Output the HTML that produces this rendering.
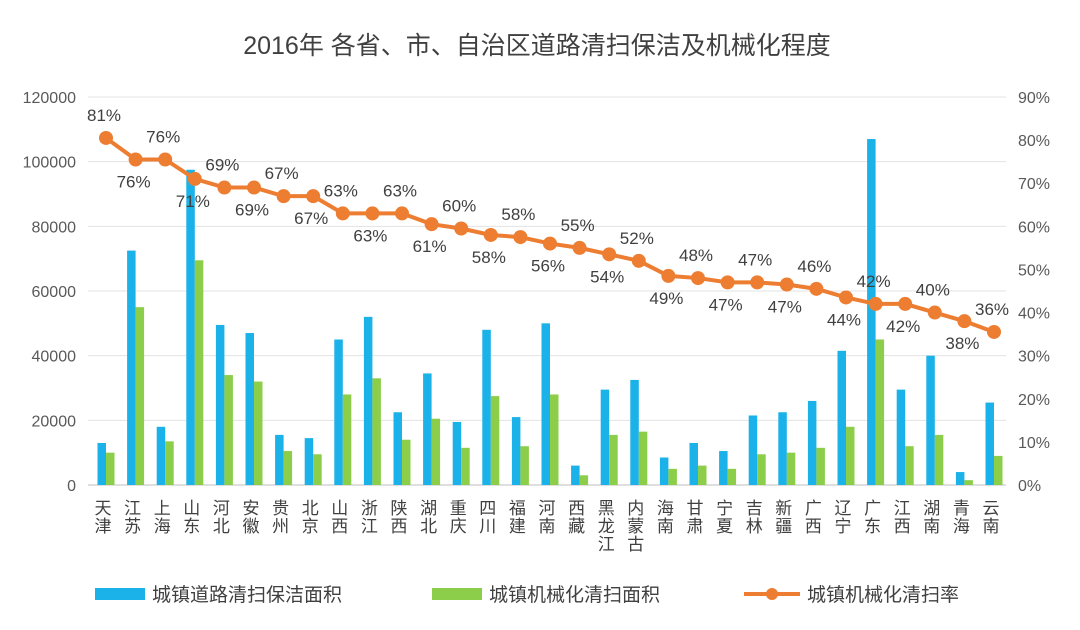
<!DOCTYPE html>
<html><head><meta charset="utf-8"><style>
body{margin:0;background:#fff}
svg{display:block;font-family:"Liberation Sans","Noto Sans CJK SC",sans-serif}
</style></head><body>
<svg id="s" width="1080" height="630" xmlns="http://www.w3.org/2000/svg">
<rect width="1080" height="630" fill="#fff"/>
<text x="537" y="54" font-size="25" fill="#404040" text-anchor="middle">2016年 各省、市、自治区道路清扫保洁及机械化程度</text>
<g id="grid"></g>
<g id="bars"></g>
<g id="line"></g>
<g id="labels"></g>
<g>
<rect x="95" y="588" width="50" height="12" fill="#1ab2e8"/>
<text x="152" y="601" font-size="19" fill="#404040">城镇道路清扫保洁面积</text>
<rect x="432" y="588" width="50" height="12" fill="#8cce4a"/>
<text x="489" y="601" font-size="19" fill="#404040">城镇机械化清扫面积</text>
<line x1="744" y1="594" x2="800" y2="594" stroke="#ed7d31" stroke-width="4"/>
<circle cx="772" cy="594" r="6" fill="#ed7d31"/>
<text x="807" y="601" font-size="19" fill="#404040">城镇机械化清扫率</text>
</g>
</svg>
<script>
var NS="http://www.w3.org/2000/svg";
function el(p,t,a,txt){var e=document.createElementNS(NS,t);for(var k in a)e.setAttribute(k,a[k]);if(txt!=null)e.textContent=txt;document.getElementById(p).appendChild(e);}
var y0=485,h=388;
for(var i=0;i<=6;i++){var y=y0-i*h/6;
el("grid","line",{x1:88,x2:1006,y1:y,y2:y,stroke:i==0?"#bfbfbf":"#e3e3e3","stroke-width":1});
el("grid","text",{x:76,y:y+6,"font-size":16,fill:"#595959","text-anchor":"end"},String(i*20000));}
for(var i=0;i<=9;i++){var y=y0-i*h/9;el("grid","text",{x:1018,y:y+6,"font-size":16,fill:"#595959"},i*10+"%");}
var names=["天津","江苏","上海","山东","河北","安徽","贵州","北京","山西","浙江","陕西","湖北","重庆","四川","福建","河南","西藏","黑龙江","内蒙古","海南","甘肃","宁夏","吉林","新疆","广西","辽宁","广东","江西","湖南","青海","云南"];
var b=[13000,72500,18000,97500,49500,47000,15500,14500,45000,52000,22500,34500,19500,48000,21000,50000,6000,29500,32500,8500,13000,10500,21500,22500,26000,41500,107000,29500,40000,4000,25500];
var g=[10000,55000,13500,69500,34000,32000,10500,9500,28000,33000,14000,20500,11500,27500,12000,28000,3000,15500,16500,5000,6000,5000,9500,10000,11500,18000,45000,12000,15500,1500,9000];
var r=[80.5,75.5,75.5,71,69,69,67,67,63,63,63,60.5,59.5,58,57.5,56,55,53.5,52,48.5,48,47,47,46.5,45.5,43.5,42,42,40,38,35.5];
var lab=[81,76,76,71,69,69,67,67,63,63,63,61,60,58,58,56,55,54,52,49,48,47,47,47,46,44,42,42,40,38,36];
var pts=[];
for(var i=0;i<31;i++){var c=106+i*29.6;
var bh=b[i]/120000*h,gh=g[i]/120000*h;
el("bars","rect",{x:c-8.5,y:y0-bh,width:8.5,height:bh,fill:"#1ab2e8"});
el("bars","rect",{x:c,y:y0-gh,width:8.5,height:gh,fill:"#8cce4a"});
var y=y0-r[i]/90*h;pts.push(c+","+y);
var ly=(i%2==0)?y-17:y+28;
el("labels","text",{x:c-2,y:ly,"font-size":17,fill:"#404040","text-anchor":"middle"},lab[i]+"%");
var n=names[i];for(var k=0;k<n.length;k++)el("labels","text",{x:c-3,y:514+k*18,"font-size":17,fill:"#404040","text-anchor":"middle"},n[k]);
}
el("line","polyline",{points:pts.join(" "),fill:"none",stroke:"#ed7d31","stroke-width":4});
pts.forEach(function(p){var a=p.split(",");el("line","circle",{cx:a[0],cy:a[1],r:7,fill:"#ed7d31"});});
</script>
</body></html>
